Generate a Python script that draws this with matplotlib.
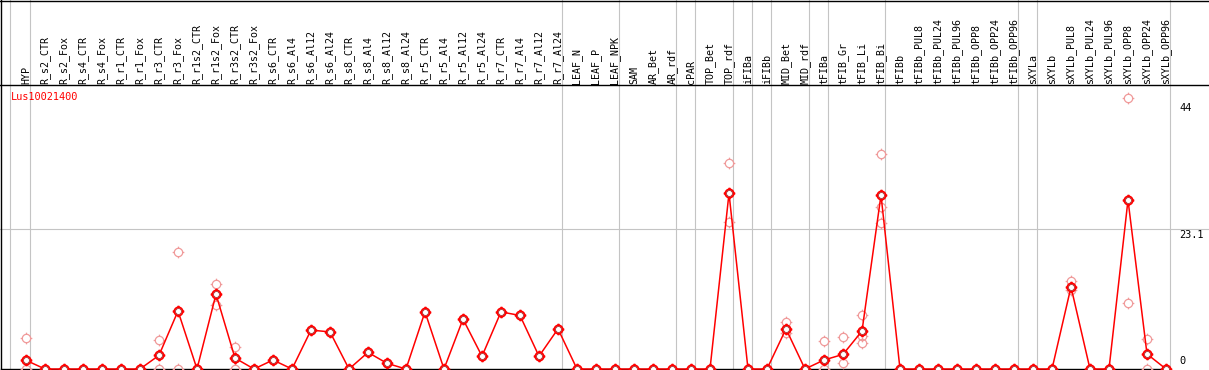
import numpy as np
import matplotlib
matplotlib.use('Agg')
import matplotlib.pyplot as plt
from matplotlib.path import Path

# sample names (one column each)
samples = ['HYP', 'R_s2_CTR', 'R_s2_Fox', 'R_s4_CTR', 'R_s4_Fox', 'R_r1_CTR', 'R_r1_Fox',
           'R_r3_CTR', 'R_r3_Fox', 'R_r1s2_CTR', 'R_r1s2_Fox', 'R_r3s2_CTR', 'R_r3s2_Fox',
           'R_s6_CTR', 'R_s6_Al4', 'R_s6_Al12', 'R_s6_Al24',
           'R_s8_CTR', 'R_s8_Al4', 'R_s8_Al12', 'R_s8_Al24',
           'R_r5_CTR', 'R_r5_Al4', 'R_r5_Al12', 'R_r5_Al24',
           'R_r7_CTR', 'R_r7_Al4', 'R_r7_Al12', 'R_r7_Al24',
           'LEAF_N', 'LEAF_P', 'LEAF_NPK', 'SAM', 'AR_Bet', 'AR_rdf', 'cPAR',
           'TOP_Bet', 'TOP_rdf', 'iFIBa', 'iFIBb', 'MID_Bet', 'MID_rdf',
           'tFIBa', 'tFIB_Gr', 'tFIB_Li', 'tFIB_Bi', 'tFIBb',
           'tFIBb_PUL8', 'tFIBb_PUL24', 'tFIBb_PUL96', 'tFIBb_OPP8', 'tFIBb_OPP24', 'tFIBb_OPP96',
           'sXYLa', 'sXYLb', 'sXYLb_PUL8', 'sXYLb_PUL24', 'sXYLb_PUL96',
           'sXYLb_OPP8', 'sXYLb_OPP24', 'sXYLb_OPP96']

# mean expression per sample
means = [1.43, 0, 0, 0, 0, 0, 0,
         2.25, 9.54, 0, 12.3, 1.8, 0,
         1.48, 0, 6.4, 6.1,
         0, 2.74, 0.93, 0,
         9.4, 0, 8.2, 2.1,
         9.4, 8.8, 2.1, 6.6,
         0, 0, 0, 0, 0, 0, 0,
         0, 28.9, 0, 0, 6.6, 0,
         1.48, 2.4, 6.25, 28.6, 0,
         0, 0, 0, 0, 0, 0,
         0, 0, 13.5, 0, 0,
         27.8, 2.47, 0]

# replicate points (sample name, value)
rep_names = ['HYP', 'HYP', 'R_r3_CTR', 'R_r3_CTR', 'R_r3_Fox', 'R_r3_Fox',
             'R_r1s2_Fox', 'R_r1s2_Fox', 'R_r3s2_CTR', 'R_r3s2_CTR',
             'TOP_rdf', 'TOP_rdf', 'MID_Bet', 'MID_Bet',
             'tFIBa', 'tFIBa', 'tFIB_Gr', 'tFIB_Gr',
             'tFIB_Li', 'tFIB_Li', 'tFIB_Li', 'tFIB_Bi', 'tFIB_Bi', 'tFIB_Bi',
             'sXYLb_PUL8', 'sXYLb_PUL8', 'sXYLb_OPP8', 'sXYLb_OPP8',
             'sXYLb_OPP24', 'sXYLb_OPP24']
rep_vals = [5.1, 0, 4.7, 0, 19.2, 0,
            13.9, 10.5, 3.6, 0,
            33.8, 24.2, 7.7, 5.9,
            4.6, 0, 5.26, 1.0,
            8.8, 5.4, 4.2, 35.4, 26.7, 24.0,
            14.4, 13.0, 44.5, 10.8,
            5.0, 0]

# last sample of each group -> grey separator
group_ends = ['HYP', 'R_r7_Al24', 'LEAF_NPK', 'AR_rdf', 'cPAR', 'TOP_rdf', 'iFIBa',
              'iFIBb', 'MID_rdf', 'tFIBa', 'tFIB_Bi', 'tFIBb_OPP96', 'sXYLa', 'sXYLb_OPP96']

gene = 'Lus10021400'
ref_lines = [44, 23.1, 0]
ref_labels = ['44', '23.1', '0']

W, H = 1209, 370
HEAD = 85          # header height in px
X0, DX = 26, 19    # px of first column, px per column
Y0, DY = 369, 6.08 # px of zero, px per unit

fig = plt.figure(figsize=(W / 100, H / 100), dpi=100)
ax = fig.add_axes([0, 0, 1, (H - HEAD) / H])
hx = fig.add_axes([0, (H - HEAD) / H, 1, HEAD / H], sharex=ax)

x_of = {s: i for i, s in enumerate(samples)}
xs = np.arange(len(samples))
ax.set_xlim(-X0 / DX, (W - X0) / DX)
ax.set_ylim(-(H - Y0) / DY, (Y0 - HEAD) / DY)
hx.set_ylim(HEAD, 0)
for a in (ax, hx):
    a.axis('off')

mono = 'DejaVu Sans Mono'
grey = '#c4c4c4'

# separators
sep_x = [-0.84] + [x_of[s] + 0.21 for s in group_ends]
for a in (ax, hx):
    for sx in sep_x:
        a.axvline(sx, color=grey, lw=0.8, zorder=1)
ax.axhline(23.1, color=grey, lw=0.8, zorder=1)

# borders
lx = (1 - X0) / DX
for a in (ax, hx):
    a.axvline(lx, color='black', lw=1.0, zorder=2)
hx.axhline(0.5, color='black', lw=1.0, clip_on=False)
hx.axhline(HEAD - 0.3, color='black', lw=1.0, clip_on=False)
ax.plot([lx, sep_x[-1]], [0, 0], color='black', lw=1.0, zorder=2)

# header labels
for i, s in enumerate(samples):
    hx.text(i, HEAD - 1.5, s, rotation=90, ha='center', va='bottom',
            fontsize=7.2, family=mono)

# marker: circle (polygon) with small ticks outside
t = np.linspace(0, 2 * np.pi, 33)
circ_v = np.column_stack([np.cos(t), np.sin(t)])
circ = Path(circ_v, [Path.MOVETO] + [Path.LINETO] * 31 + [Path.CLOSEPOLY])
ticks = [Path([[0, 1], [0, 1.4]]), Path([[0, -1], [0, -1.4]]),
         Path([[1, 0], [1.4, 0]]), Path([[-1, 0], [-1.4, 0]])]
mk = Path.make_compound_path(circ, *ticks)

rep_x = [x_of[s] for s in rep_names]
ax.plot(rep_x, rep_vals, ls='none', marker=mk, ms=8.4, mfc='none',
        mec='#f09a9a', mew=0.9, zorder=3, clip_on=False)
ax.plot(xs, means, color='red', lw=1.1, zorder=4, clip_on=False)
ax.plot(xs, means, ls='none', marker=mk, ms=8.4, mfc='white',
        mec='red', mew=1.3, zorder=5, clip_on=False)
ax.plot(xs, means, ls='none', marker='o', ms=4.2, mfc='none',
        mec='#900000', mew=0.45, zorder=6, clip_on=False)

ax.text(-0.8, 44.8, gene, color='red', fontsize=7.4, family=mono, va='center', ha='left')

tx = (1179 - X0) / DX
for v, lab in zip(ref_lines, ref_labels):
    ax.text(tx, v + (0.5 if v == 0 else -0.3), lab, fontsize=7.4, family=mono,
            ha='left', va='bottom' if v == 0 else 'top')

fig.savefig('out.png', dpi=100)
